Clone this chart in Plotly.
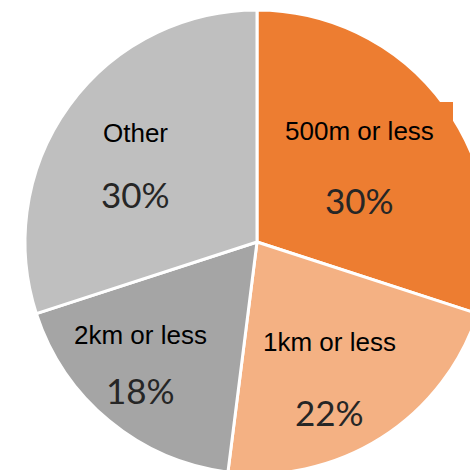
import math
import plotly.graph_objects as go

# ---- data ----
categories = ["500m or less", "1km or less", "2km or less", "Other"]
values = [30, 22, 18, 30]
colors = ["#ED7D31", "#F4B183", "#A5A5A5", "#BFBFBF"]

# ---- layout / style ----
W, H = 500, 500
CX, CY, R = 257, 242, 232  # pie centre and radius in pixels
label_frac = [0.554, 0.659, 0.722, 0.626]   # radial position of text block
label_dtheta = [-0.8, 4.3, 4.7, -3.1]        # angular nudge (deg)
label_up = [34, 35, 27, 30]                  # px above block centre for category
pct_down = [35, 35, 28, 31]                  # px below block centre for percent

fig = go.Figure()
fig.add_trace(go.Pie(
    labels=categories,
    values=values,
    marker=dict(colors=colors, line=dict(color="white", width=3)),
    sort=False,
    direction="clockwise",
    rotation=0,
    textinfo="none",
    hoverinfo="label+percent",
    showlegend=False,
    domain=dict(x=[(CX - R) / W, (CX + R) / W],
                y=[1 - (CY + R) / H, 1 - (CY - R) / H]),
))

total = sum(values)
cum = 0
annotations = []
for i, (cat, v) in enumerate(zip(categories, values)):
    mid = (cum + v / 2) / total * 360 + label_dtheta[i]
    cum += v
    th = math.radians(mid)
    px = CX + label_frac[i] * R * math.sin(th)
    py = CY - label_frac[i] * R * math.cos(th)
    pct = round(v / total * 100)
    annotations.append(dict(
        x=px / W, y=1 - (py - label_up[i]) / H, xref="paper", yref="paper",
        text=cat, showarrow=False, xanchor="center", yanchor="middle",
        font=dict(family="Arial, Liberation Sans, sans-serif", size=26, color="black"),
    ))
    annotations.append(dict(
        x=px / W, y=1 - (py + pct_down[i]) / H, xref="paper", yref="paper",
        text=f"{pct}%", showarrow=False, xanchor="center", yanchor="middle",
        font=dict(family="Lato, Open Sans, sans-serif", size=35, color="#262626"),
    ))

fig.update_layout(
    width=W, height=H,
    margin=dict(l=0, r=0, t=0, b=0),
    paper_bgcolor="white",
    plot_bgcolor="white",
    annotations=annotations,
    shapes=[dict(type="rect", xref="paper", yref="paper",
                 x0=425 / W, x1=453 / W, y0=1 - 128 / H, y1=1 - 102 / H,
                 fillcolor=colors[0], line=dict(width=0), layer="above")],
)

fig.write_html(
    "out.html",
    post_script="document.body.style.margin='0';document.body.style.overflow='hidden';"
                "document.documentElement.style.overflow='hidden';",
)
